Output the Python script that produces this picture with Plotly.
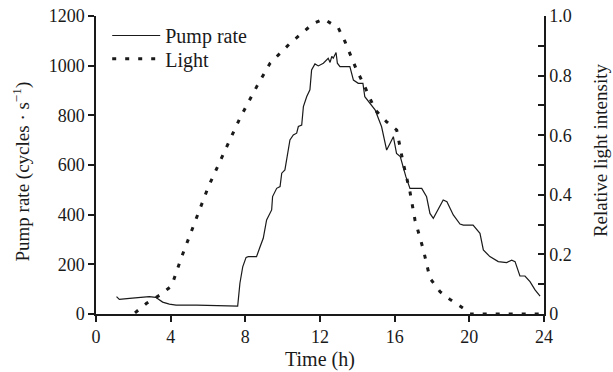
import plotly.graph_objects as go

pump_t = [1.1, 1.25, 1.8, 2.3, 2.85, 3.2, 3.57, 3.93, 4.29, 5.4,
          7.1, 7.59, 7.64, 7.71, 7.86, 8.04, 8.16, 8.6, 8.79, 8.96,
          9.14, 9.41, 9.46, 9.68, 9.86, 9.95, 10.12, 10.21, 10.39, 10.57,
          10.75, 10.84, 11.02, 11.11, 11.29, 11.46, 11.55, 11.73, 11.91, 12.18,
          12.44, 12.54, 12.63, 12.71, 12.86, 12.93, 13.07, 13.6, 13.79, 14.05,
          14.3, 14.4, 14.68, 14.95, 15.3, 15.57, 15.75, 15.93, 16.1, 16.3,
          16.6, 16.82, 17.45, 17.71, 17.89, 18.07, 18.6, 18.8, 19.14, 19.5,
          19.68, 20.2, 20.57, 20.75, 21.1, 21.55, 22.0, 22.27, 22.45, 22.71,
          22.98, 23.25, 23.52, 23.79]
pump_rate = [70, 59, 63, 67, 70, 67, 48, 40, 36, 36,
             35, 32, 70, 124, 190, 228, 231, 231, 271, 305,
             379, 419, 473, 506, 513, 567, 580, 627, 701, 721,
             728, 755, 761, 835, 876, 903, 983, 1007, 999, 1010,
             1030, 1013, 1037, 1030, 1053, 1010, 996, 996, 942, 929,
             929, 875, 849, 822, 754, 660, 687, 714, 647, 634,
             553, 506, 506, 472, 405, 385, 459, 452, 399, 362,
             358, 358, 325, 258, 231, 211, 207, 217, 211, 153,
             153, 130, 97, 72]

light_t = [2.09, 2.71, 3.43, 4.05, 4.59, 5.21, 5.75, 6.02, 7.0, 7.71,
           8.61, 9.32, 10.39, 11.1, 11.64, 12.2, 12.98, 13.34, 13.96, 14.32,
           14.95, 15.57, 16.11, 16.46, 16.82, 17.09, 17.54, 17.89, 18.43, 18.96,
           19.68, 20.04, 23.8]
light = [0.004, 0.036, 0.064, 0.094, 0.192, 0.293, 0.383, 0.427, 0.561, 0.657,
         0.763, 0.841, 0.908, 0.947, 0.975, 0.99, 0.96, 0.914, 0.819, 0.774,
         0.685, 0.645, 0.617, 0.506, 0.41, 0.315, 0.215, 0.12, 0.075, 0.049,
         0.019, 0.0, 0.0]

x_ticks = [0, 4, 8, 12, 16, 20, 24]
left_ticks = [0, 200, 400, 600, 800, 1000, 1200]
right_ticks = [0, 0.2, 0.4, 0.6, 0.8, 1.0]
right_labels = ["0", "0.2", "0.4", "0.6", "0.8", "1.0"]

FONT = "Liberation Serif"
INK = "#1a1a1a"

fig = go.Figure()
fig.add_trace(go.Scatter(x=pump_t, y=pump_rate, mode="lines", name="Pump rate",
                         legend="legend", line=dict(color=INK, width=1.2)))
fig.add_trace(go.Scatter(x=light_t, y=light, mode="lines", name="Light", yaxis="y2",
                         legend="legend2", line=dict(color=INK, width=3, dash="4px,9px")))

axis_common = dict(showgrid=False, zeroline=False, showline=True, linecolor=INK,
                   linewidth=1.5, tickcolor=INK, tickwidth=1.5, ticklen=6,
                   tickfont=dict(size=18, family=FONT, color=INK), automargin=False)

legend_common = dict(xanchor="left", yanchor="top", bgcolor="rgba(0,0,0,0)",
                     font=dict(size=20, family=FONT, color=INK), itemwidth=48)

fig.update_layout(
    width=613, height=372,
    margin=dict(l=96, r=69, t=16, b=58),
    paper_bgcolor="white", plot_bgcolor="white",
    font=dict(family=FONT, size=18, color=INK),
    showlegend=True,
    legend=dict(x=0.025, y=1.0, **legend_common),
    legend2=dict(x=0.025, y=0.922, **legend_common),
    xaxis=dict(range=[0, 24], tickvals=x_ticks, ticks="outside", **axis_common),
    yaxis=dict(range=[0, 1200], tickvals=left_ticks, ticks="outside", **axis_common),
    yaxis2=dict(range=[0, 1], overlaying="y", side="right", anchor="x",
                tickvals=right_ticks, ticktext=right_labels, ticks="inside",
                minor=dict(dtick=0.1, ticks="inside", ticklen=6, tickcolor=INK, tickwidth=1.5),
                **axis_common),
    annotations=[
        dict(text="Time (h)", xref="paper", yref="paper", x=0.5, y=-0.153,
             xanchor="center", yanchor="middle", showarrow=False,
             font=dict(size=20, family=FONT, color=INK)),
        dict(text="Pump rate (cycles · s<sup>−1</sup>)", xref="paper", yref="paper",
             x=-0.166, y=0.477, xanchor="center", yanchor="middle", showarrow=False,
             textangle=-90, font=dict(size=19, family=FONT, color=INK)),
        dict(text="Relative light intensity", xref="paper", yref="paper",
             x=1.125, y=0.55, xanchor="center", yanchor="middle", showarrow=False,
             textangle=-90, font=dict(size=19, family=FONT, color=INK)),
    ],
)

fig.write_html("out.html", config={"displayModeBar": False},
               post_script="document.body.style.margin='0';document.body.style.padding='0';")
